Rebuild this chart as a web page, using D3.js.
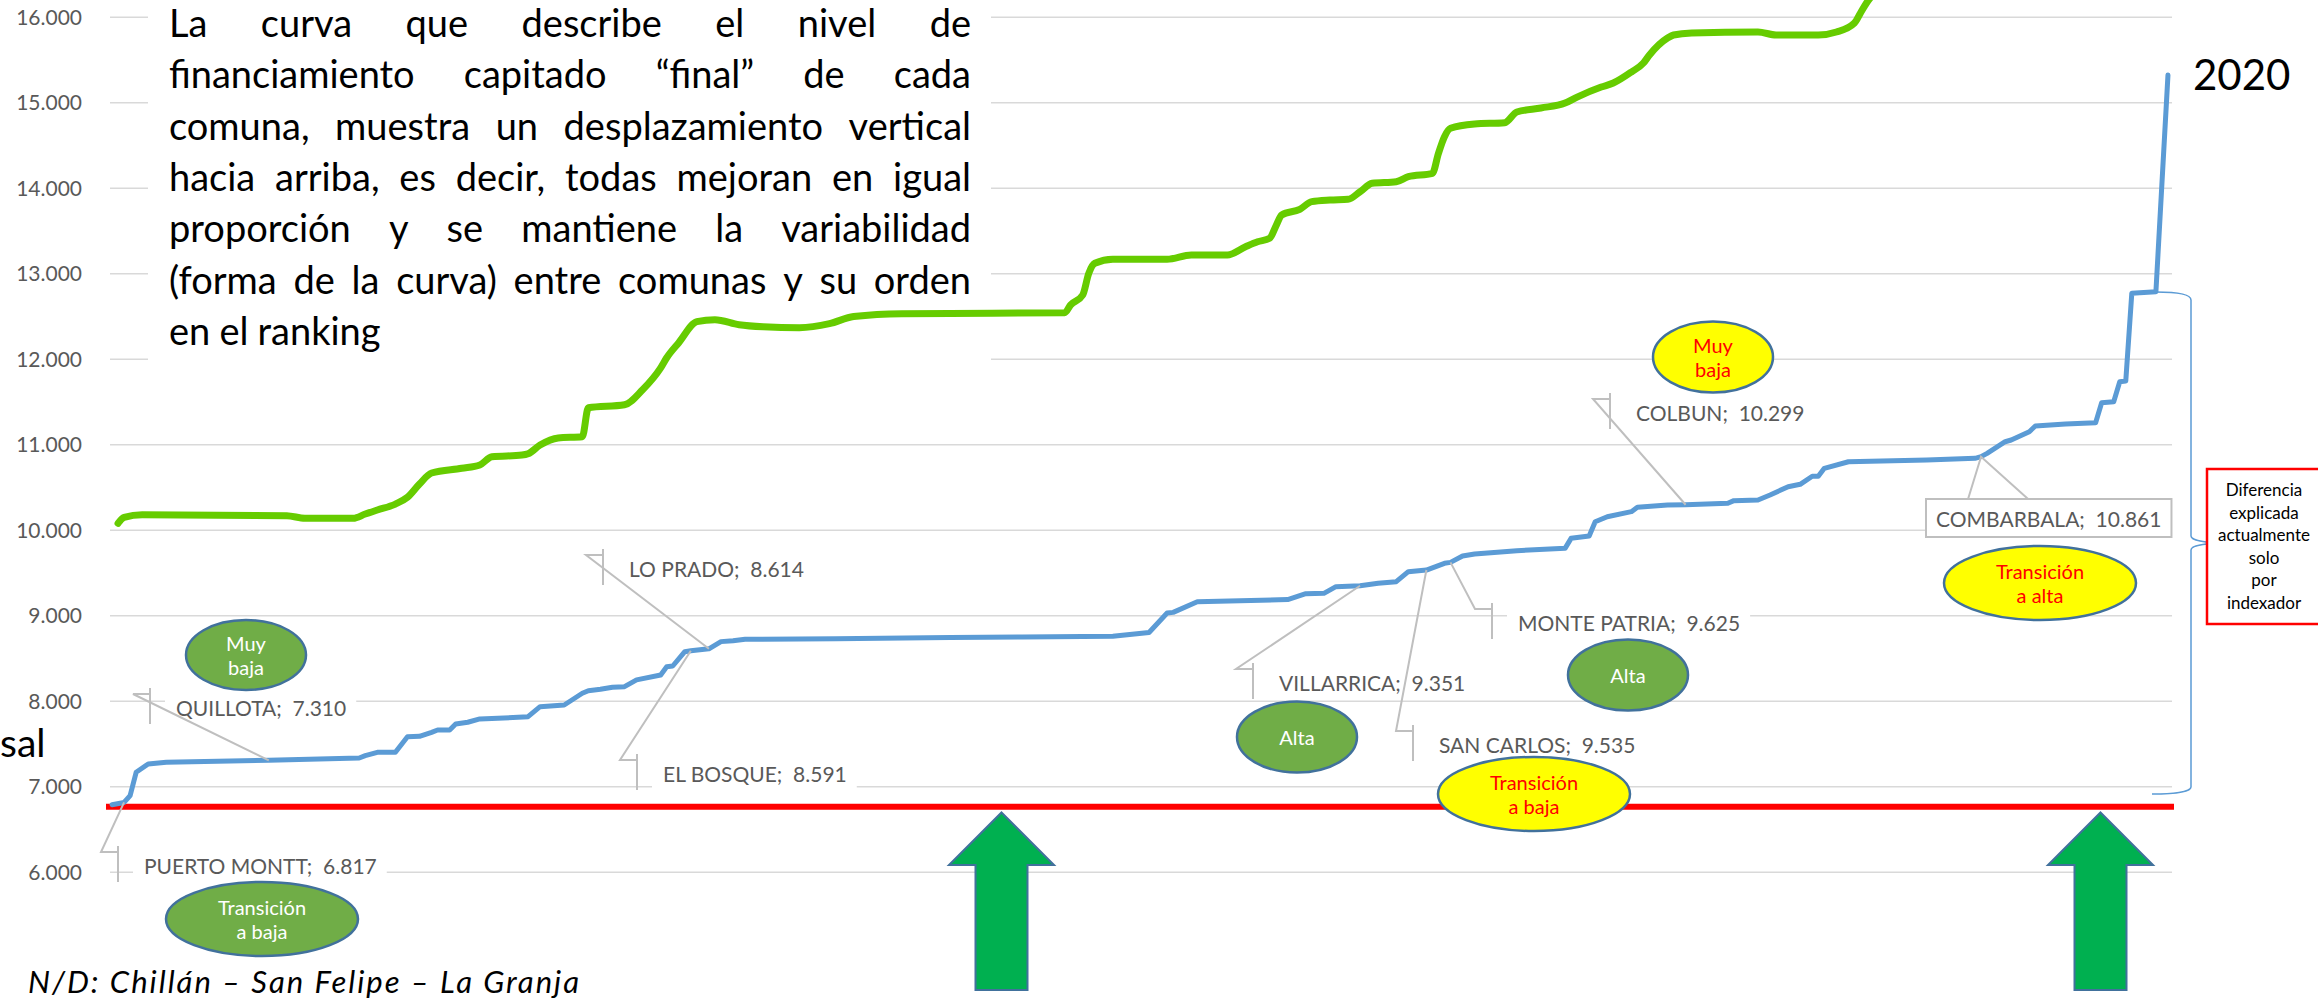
<!DOCTYPE html>
<html>
<head>
<meta charset="utf-8">
<script src="https://cdn.jsdelivr.net/npm/d3@7"></script>
<style>
  body { margin: 0; background: #fff; }
  svg { display: block; font-family: Lato, "Open Sans", sans-serif; }
</style>
</head>
<body>
<svg id="chart" width="2318" height="1006"></svg>
<script>
//ranking position of each comuna and its per capita value - 2020 curve (blue)
var rank2020 = [1, 3, 4, 5, 7, 10, 27, 42, 43, 45, 48, 50, 52, 54, 55, 57, 58, 60, 62, 65, 70, 72, 76, 79, 80, 82, 84, 86, 88, 92,
    93, 94, 96, 97, 100, 102, 104, 106, 121, 140, 152, 167, 173, 176, 177, 181, 196, 199, 202, 204, 208, 211, 214, 216, 219, 222,
    223, 225, 227, 234, 242, 243, 246, 247, 249, 253, 254, 259, 262, 269, 270, 274, 276, 279, 281, 283, 284, 285, 289, 302, 310,
    311, 312, 315, 316, 319, 320, 325, 330, 331, 333, 334, 335, 336, 340, 342];
var value2020 = [6791, 6817, 6897, 7170, 7267, 7286, 7310, 7337, 7364, 7403, 7403, 7586, 7590, 7637, 7664, 7664, 7735, 7755, 7794,
    7801, 7820, 7937, 7957, 8094, 8124, 8140, 8164, 8171, 8250, 8308, 8405, 8413, 8580, 8591, 8614, 8698, 8709, 8725, 8732, 8745,
    8752, 8762, 8804, 9032, 9040, 9164, 9190, 9258, 9263, 9341, 9351, 9380, 9399, 9516, 9535, 9614, 9625, 9699, 9723, 9762, 9789,
    9906, 9933, 10100, 10159, 10218, 10269, 10296, 10299, 10316, 10347, 10355, 10413, 10510, 10538, 10632, 10632, 10725, 10802,
    10822, 10842, 10861, 10900, 11036, 11056, 11153, 11220, 11243, 11258, 11492, 11504, 11738, 11746, 12772, 12791, 15325];

//"final" curve (green)
var rankFinal = [2, 3, 6, 30, 33, 41, 43, 45, 48, 50, 52, 54, 59, 62, 64, 69, 70, 72, 75, 79, 80, 86, 89, 92, 93, 95, 98, 101, 105,
    109, 115, 120, 124, 132, 147, 159, 160, 162, 163, 164, 167, 176, 180, 186, 189, 191, 193, 194, 195, 198, 200, 203, 206, 208,
    210, 214, 216, 220, 221, 222, 223, 227, 232, 234, 238, 242, 244, 248, 250, 253, 255, 256, 259, 260, 263, 274, 277, 284, 287,
    290, 291, 292, 293];
var valueFinal = [10082, 10152, 10182, 10171, 10140, 10140, 10190, 10237, 10307, 10386, 10541, 10670, 10725, 10764, 10860, 10880,
    10895, 10997, 11080, 11094, 11433, 11468, 11644, 11900, 12018, 12194, 12440, 12464, 12405, 12381, 12370, 12417, 12500, 12534,
    12538, 12545, 12636, 12752, 13005, 13123, 13170, 13170, 13220, 13220, 13317, 13375, 13415, 13551, 13688, 13754, 13844, 13863,
    13871, 13960, 14058, 14077, 14136, 14175, 14409, 14604, 14702, 14752, 14767, 14892, 14939, 14997, 15067, 15184, 15231, 15360,
    15465, 15559, 15757, 15793, 15816, 15828, 15793, 15793, 15828, 15933, 16050, 16167, 16261];

var yTicks = [6000, 7000, 8000, 9000, 10000, 11000, 12000, 13000, 14000, 15000, 16000];

//red reference line
var basalValue = 6767;

//comunas with a data label on the 2020 curve
var labelNames = ["PUERTO MONTT", "QUILLOTA", "EL BOSQUE", "LO PRADO", "VILLARRICA", "SAN CARLOS", "MONTE PATRIA", "COLBUN", "COMBARBALA"];
var labelRanks = [3, 27, 97, 100, 208, 219, 223, 262, 311];
var labelValues = [6817, 7310, 8591, 8614, 9351, 9535, 9625, 10299, 10861];

var paragraph = [
    "La curva que describe el nivel de",
    "financiamiento capitado \u201cfinal\u201d de cada",
    "comuna, muestra un desplazamiento vertical",
    "hacia arriba, es decir, todas mejoran en igual",
    "proporción y se mantiene la variabilidad",
    "(forma de la curva) entre comunas y su orden",
    "en el ranking"
];
var boxNote = ["Diferencia", "explicada", "actualmente", "solo", "por", "indexador"];

var svg = d3.select("#chart");
var fmt = d3.formatLocale({decimal: ",", thousands: ".", grouping: [3], currency: ["$", ""]}).format(",.0f");

//scales
var x = d3.scaleLinear().domain([0, 343]).range([106, 2174]);
var y = d3.scaleLinear().domain([6000, 16000]).range([872.3, 17.3]);

//gridlines + tick labels
svg.append("g")
    .selectAll("line")
    .data(yTicks)
    .enter().append("line")
    .attr("x1", 110).attr("x2", 2172)
    .attr("y1", (d) => y(d)).attr("y2", (d) => y(d))
    .style("stroke", "#d9d9d9")
    .style("stroke-width", 1.5);

svg.append("g")
    .selectAll("text")
    .data(yTicks)
    .enter().append("text")
    .attr("x", 82)
    .attr("y", (d) => y(d))
    .attr("dy", "0.36em")
    .style("text-anchor", "end")
    .style("font-size", "21px")
    .style("fill", "#595959")
    .text((d) => fmt(d));

//white text box covering the top-left gridlines
svg.append("rect")
    .attr("x", 148).attr("y", 0)
    .attr("width", 843).attr("height", 378)
    .style("fill", "#fff");

//justified paragraph
var paraG = svg.append("g").style("fill", "#000");
var left = 169, right = 971, size = 38;
var lineWords = paragraph.map((l) => l.split(" "));
var probe = paraG.append("text").style("font-size", size + "px");
var maxW = 0;
lineWords.forEach((ws) => {
    probe.text(ws.join(" "));
    maxW = Math.max(maxW, probe.node().getComputedTextLength());
});
probe.remove();
if (maxW > (right - left)) size = size * (right - left) / maxW;

lineWords.forEach((ws, i) => {
    var base = 36.7 + i * 51.4;
    var nodes = ws.map((w) => paraG.append("text")
        .attr("y", base)
        .style("font-size", size + "px")
        .text(w));
    var widths = nodes.map((n) => n.node().getComputedTextLength());
    var total = d3.sum(widths);
    var last = i == lineWords.length - 1;
    var gap = last ? size * 0.24 : (right - left - total) / (ws.length - 1);
    var cx = left;
    nodes.forEach((n, j) => {
        n.attr("x", cx);
        cx += widths[j] + gap;
    });
});

//left cut-off word
svg.append("text")
    .attr("x", 0).attr("y", 757)
    .style("font-size", "39px")
    .text("sal");

//red reference line
svg.append("line")
    .attr("x1", x(0)).attr("x2", x(343))
    .attr("y1", y(basalValue)).attr("y2", y(basalValue))
    .style("stroke", "#ff0000")
    .style("stroke-width", 6);

//green "final" curve
var finalData = rankFinal.map((r, i) => [r, valueFinal[i]]);
svg.append("path")
    .datum(finalData)
    .attr("d", d3.line().x((d) => x(d[0])).y((d) => y(d[1])).curve(d3.curveMonotoneX))
    .style("fill", "none")
    .style("stroke", "#66cc00")
    .style("stroke-width", 7)
    .style("stroke-linecap", "round")
    .style("stroke-linejoin", "round");

//blue 2020 curve
var data2020 = rank2020.map((r, i) => [r, value2020[i]]);
svg.append("path")
    .datum(data2020)
    .attr("d", d3.line().x((d) => x(d[0])).y((d) => y(d[1])))
    .style("fill", "none")
    .style("stroke", "#5b9bd5")
    .style("stroke-width", 5)
    .style("stroke-linecap", "round")
    .style("stroke-linejoin", "round");

svg.append("text")
    .attr("x", 2193).attr("y", 75)
    .attr("dy", "0.36em")
    .style("font-size", "42px")
    .style("fill", "#000")
    .text("2020");

//data label callouts (position of each label box)
var labelTextX = [144, 176, 663, 629, 1279, 1439, 1518, 1636, 1936];
var labelTextY = [866, 708, 774, 569, 683, 745, 623, 413, 519];

var labG = svg.append("g");
labelNames.forEach((name, i) => {
    var ax = x(labelRanks[i]), ay = y(labelValues[i]);
    var tx = labelTextX[i], ty = labelTextY[i];
    var g = labG.append("g");
    var bg = g.append("rect").style("fill", "#fff");
    var t = g.append("text")
        .attr("x", tx).attr("y", ty)
        .attr("dy", "0.36em")
        .style("font-size", "21px")
        .style("fill", "#595959")
        .style("white-space", "pre")
        .text(name + ";  " + fmt(labelValues[i]));
    var tw = t.node().getComputedTextLength();
    if (i == labelNames.length - 1) {
        //boxed callout
        bg.attr("x", tx - 10).attr("y", ty - 20)
            .attr("width", tw + 20).attr("height", 38)
            .style("stroke", "#bfbfbf").style("stroke-width", 2);
        g.insert("path", "rect")
            .attr("d", "M" + (ax - 13) + "," + (ty - 20) + "L" + ax + "," + ay + "L" + (ax + 47) + "," + (ty - 20))
            .style("fill", "none").style("stroke", "#bfbfbf").style("stroke-width", 2);
    } else {
        var bx = tx - 26;
        bg.attr("x", bx + 15).attr("y", ty - 17)
            .attr("width", tw + 21).attr("height", 34);
        g.append("path")
            .attr("d", "M" + ax + "," + ay + "L" + (bx - 17) + "," + (ty - 14) + "L" + bx + "," + (ty - 14))
            .style("fill", "none").style("stroke", "#bfbfbf").style("stroke-width", 2);
        g.append("line")
            .attr("x1", bx).attr("x2", bx)
            .attr("y1", ty - 20).attr("y2", ty + 16)
            .style("stroke", "#bfbfbf").style("stroke-width", 2);
    }
});

//classification bubbles
var bubbles = [
    {cx: 246, cy: 655, rx: 60, ry: 35, fill: "#70ad47", color: "#fff", lines: ["Muy", "baja"]},
    {cx: 262, cy: 919, rx: 96, ry: 37, fill: "#70ad47", color: "#fff", lines: ["Transición", "a baja"]},
    {cx: 1297, cy: 737, rx: 60, ry: 35.5, fill: "#70ad47", color: "#fff", lines: ["Alta"]},
    {cx: 1628, cy: 675, rx: 60, ry: 35.5, fill: "#70ad47", color: "#fff", lines: ["Alta"]},
    {cx: 1534, cy: 794, rx: 96, ry: 37, fill: "#ffff00", color: "#ff0000", lines: ["Transición", "a baja"]},
    {cx: 1713, cy: 357, rx: 60, ry: 35.5, fill: "#ffff00", color: "#ff0000", lines: ["Muy", "baja"]},
    {cx: 2040, cy: 583, rx: 96, ry: 37, fill: "#ffff00", color: "#ff0000", lines: ["Transición", "a alta"]}
];
var bub = svg.append("g")
    .selectAll("g")
    .data(bubbles)
    .enter().append("g");
bub.append("ellipse")
    .attr("cx", (d) => d.cx).attr("cy", (d) => d.cy)
    .attr("rx", (d) => d.rx).attr("ry", (d) => d.ry)
    .style("fill", (d) => d.fill)
    .style("stroke", "#41719c")
    .style("stroke-width", 2.5);
bub.each(function(d) {
    var offs = d.lines.length == 1 ? [1] : [-11, 13];
    d.lines.forEach((l, k) => {
        d3.select(this).append("text")
            .attr("x", d.cx).attr("y", d.cy + offs[k])
            .attr("dy", "0.36em")
            .style("text-anchor", "middle")
            .style("font-size", "20px")
            .style("fill", d.color)
            .text(l);
    });
});

//big green arrows
[1001.5, 2100.5].forEach((cx) => {
    svg.append("path")
        .attr("d", "M" + cx + ",812.5 L" + (cx + 52.5) + ",865 L" + (cx + 26) + ",865 L" + (cx + 26) + ",990 L" +
            (cx - 26) + ",990 L" + (cx - 26) + ",865 L" + (cx - 52.5) + ",865 Z")
        .style("fill", "#00b050")
        .style("stroke", "#41719c")
        .style("stroke-width", 2);
});

//brace + note box
svg.append("path")
    .attr("d", "M" + x(340) + ",292 C2176,292 2191,294 2191,300 L2191,536 C2191,541 2210,543 2229,543 " +
        "C2210,543 2191,545 2191,550 L2191,787 C2191,792 2172,794 2152,794")
    .style("fill", "none")
    .style("stroke", "#5b9bd5")
    .style("stroke-width", 1.5);

svg.append("rect")
    .attr("x", 2207).attr("y", 469)
    .attr("width", 200).attr("height", 155)
    .style("fill", "#fff")
    .style("stroke", "#ff0000")
    .style("stroke-width", 2.5);

svg.append("g")
    .selectAll("text")
    .data(boxNote)
    .enter().append("text")
    .attr("x", 2264)
    .attr("y", (d, i) => 490 + i * 22.5)
    .attr("dy", "0.36em")
    .style("text-anchor", "middle")
    .style("font-size", "17px")
    .style("fill", "#000")
    .text((d) => d);

//footnote
svg.append("text")
    .attr("x", 28).attr("y", 982)
    .attr("dy", "0.36em")
    .attr("textLength", 551)
    .attr("lengthAdjust", "spacing")
    .style("font-size", "31px")
    .style("font-style", "italic")
    .style("fill", "#000")
    .text("N/D: Chillán \u2013 San Felipe \u2013 La Granja");
</script>
</body>
</html>
